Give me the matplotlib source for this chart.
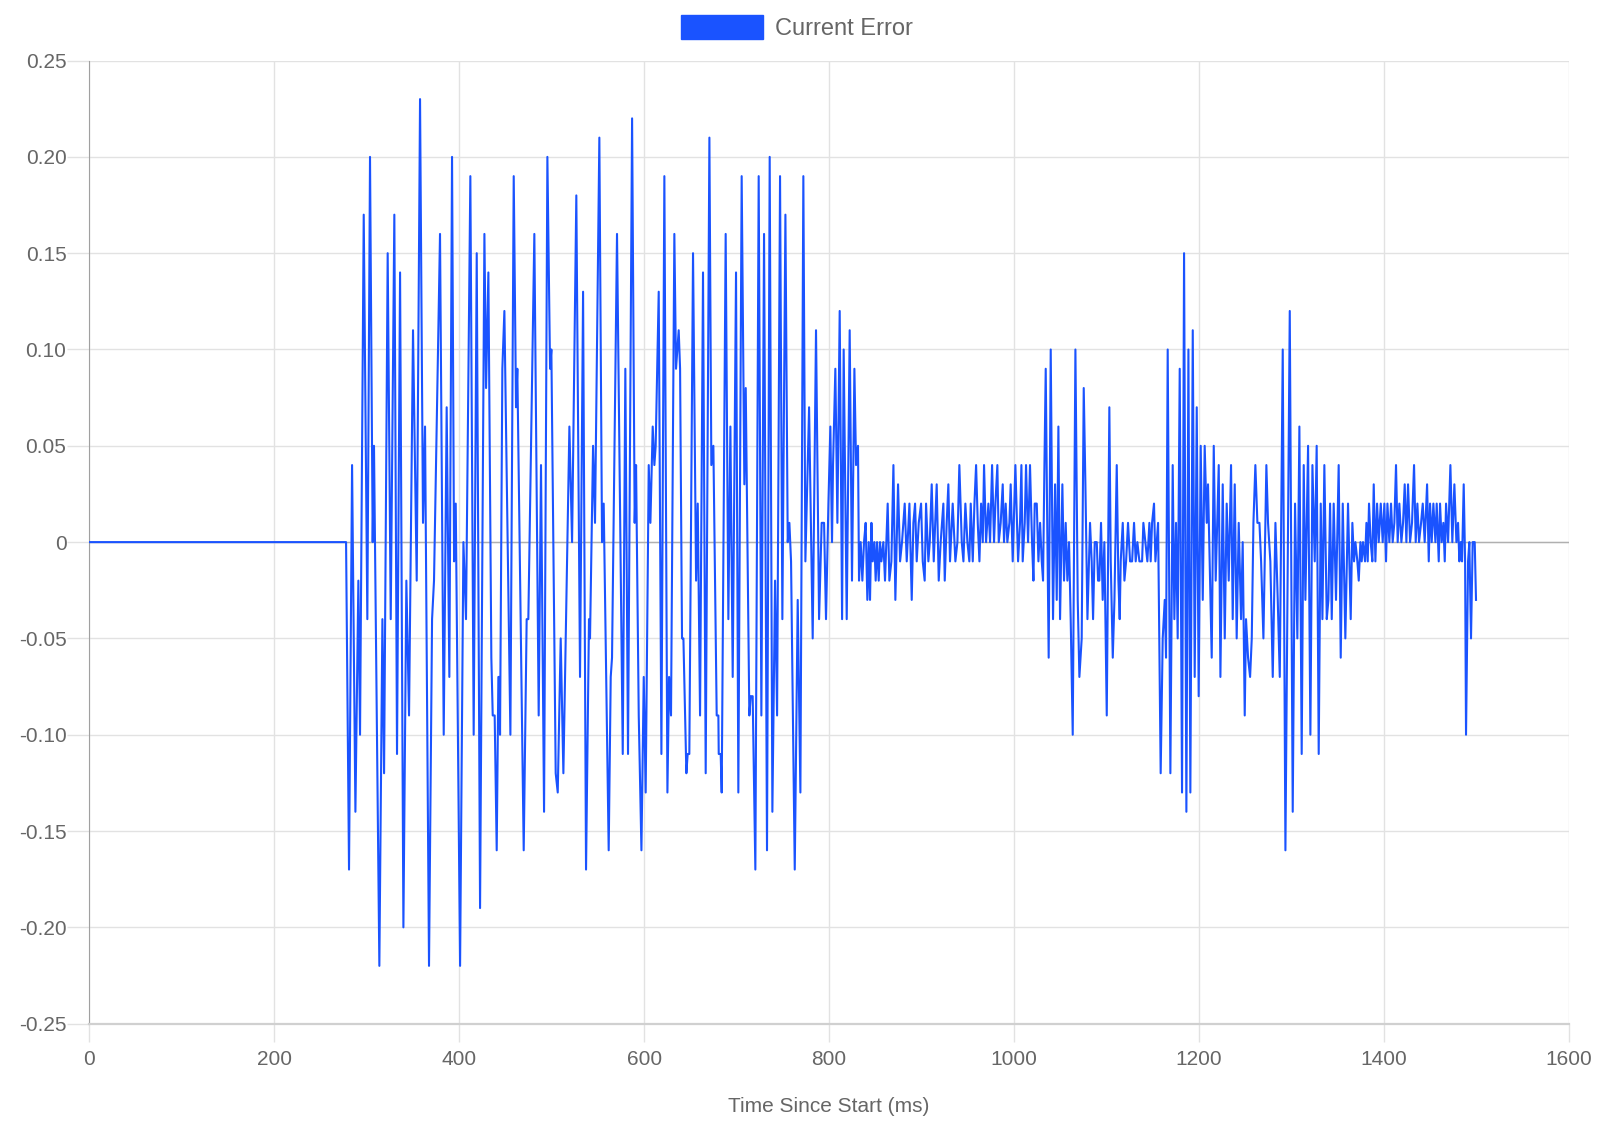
import matplotlib
matplotlib.use("Agg")
import matplotlib.pyplot as plt
from matplotlib.patches import Patch

plt.rcParams['font.family'] = ['Liberation Sans', 'DejaVu Sans']

# readings taken off the chart: time since start (ms) and current error
time_ms = [
    0, 277.6, 280.8, 284.1, 287.7, 290.9, 292.7, 296.7, 300.6, 303.5, 306.4, 307.8,
    313.6, 316.9, 318.7, 322.6, 325.9, 329.8, 332.7, 336.0, 339.6, 342.8, 345.7,
    350.0, 354.0, 357.6, 360.8, 363.0, 367.3, 370.6, 372.7, 379.2, 383.2, 386.4,
    389.3, 392.2, 394.4, 396.2, 400.9, 404.5, 407.3, 412.0, 415.6, 418.9, 422.5,
    427.2, 429.0, 431.5, 434.7, 436.2, 438.3, 440.5, 442.3, 443.4, 444.1, 446.6,
    448.8, 455.3, 458.9, 461.4, 462.8, 469.7, 472.9, 474.7, 481.2, 485.9, 488.4,
    491.7, 495.3, 498.2, 499.6, 504.3, 506.5, 509.7, 512.6, 519.1, 522.0, 526.6,
    530.6, 533.9, 537.1, 540.3, 541.4, 544.7, 546.8, 551.5, 554.4, 556.2, 561.6,
    563.8, 565.2, 570.6, 576.8, 579.6, 582.5, 586.9, 589.7, 591.2, 594.1, 597.0,
    599.5, 601.6, 604.9, 606.7, 609.2, 611.0, 612.4, 615.7, 618.6, 621.8, 625.1,
    626.9, 629.0, 632.6, 634.4, 637.3, 638.8, 640.9, 642.4, 645.6, 647.0, 648.8,
    652.8, 656.1, 657.9, 660.4, 663.6, 666.5, 670.5, 672.6, 674.8, 678.4, 680.2,
    680.6, 682.7, 683.8, 688.1, 691.0, 693.2, 695.7, 699.3, 701.8, 705.4, 708.3,
    709.8, 713.7, 715.2, 717.3, 720.2, 723.8, 726.7, 729.6, 732.8, 735.7, 738.6,
    741.5, 743.7, 746.9, 749.4, 752.7, 755.2, 757.0, 758.8, 762.8, 766.0, 768.9,
    772.1, 774.3, 778.3, 782.2, 785.8, 789.1, 791.9, 794.5, 796.6, 799.2, 801.3,
    803.1, 804.2, 806.7, 808.9, 811.4, 814.0, 815.7, 819.0, 822.2, 824.7, 827.3,
    829.1, 831.2, 832.3, 834.1, 835.9, 837.7, 839.5, 841.3, 842.8, 844.2, 845.7,
    847.1, 848.9, 850.3, 851.8, 853.6, 855.0, 856.5, 858.6, 860.4, 863.3, 865.1,
    867.3, 869.5, 871.6, 874.5, 876.7, 878.8, 881.7, 883.9, 886.8, 889.3, 891.1,
    892.9, 894.7, 896.9, 899.4, 901.2, 903.3, 904.8, 907.3, 908.8, 910.9, 913.1,
    916.3, 918.5, 920.6, 923.5, 925.0, 927.1, 928.9, 930.7, 933.6, 936.5, 938.7,
    940.8, 943.4, 945.2, 947.3, 949.5, 951.6, 953.1, 955.3, 957.1, 958.9, 960.7,
    962.5, 964.3, 966.1, 967.5, 969.7, 972.2, 974.0, 976.2, 978.3, 979.8, 981.9,
    983.4, 985.5, 987.7, 989.1, 990.9, 992.7, 994.9, 996.3, 998.5, 1001.4, 1004.3,
    1006.4, 1007.9, 1009.3, 1011.5, 1012.9, 1015.1, 1017.2, 1019.4, 1020.9, 1022.3,
    1024.5, 1026.3, 1028.1, 1029.9, 1031.3, 1032.8, 1034.2, 1035.6, 1037.4, 1039.6,
    1042.1, 1044.3, 1046.1, 1047.9, 1049.7, 1052.2, 1054.0, 1055.8, 1057.6, 1059.4,
    1061.2, 1063.4, 1066.3, 1068.8, 1070.6, 1073.1, 1075.3, 1077.1, 1079.3, 1082.1,
    1083.9, 1085.4, 1087.2, 1089.4, 1090.8, 1092.2, 1094.0, 1095.8, 1097.6, 1100.2,
    1103.0, 1104.5, 1106.7, 1108.5, 1111.0, 1112.8, 1114.2, 1115.3, 1117.5, 1119.3,
    1121.1, 1123.2, 1125.4, 1127.6, 1129.7, 1131.5, 1133.3, 1135.5, 1138.4, 1139.8,
    1142.0, 1144.1, 1146.3, 1147.7, 1149.2, 1151.3, 1152.8, 1154.2, 1155.7, 1158.5,
    1160.7, 1162.9, 1164.3, 1166.1, 1169.0, 1171.5, 1173.3, 1175.1, 1176.9, 1179.1,
    1181.6, 1183.8, 1186.3, 1188.5, 1190.6, 1193.2, 1195.3, 1197.5, 1199.6, 1201.8,
    1204.0, 1206.1, 1208.3, 1209.7, 1211.9, 1213.7, 1215.9, 1218.0, 1221.3, 1223.1,
    1225.6, 1227.8, 1229.9, 1232.1, 1234.6, 1236.4, 1238.6, 1240.7, 1242.9, 1245.4,
    1247.2, 1249.4, 1250.8, 1253.0, 1255.2, 1257.0, 1258.8, 1260.9, 1263.1, 1265.3,
    1267.1, 1269.6, 1272.8, 1274.6, 1277.1, 1279.7, 1282.6, 1285.1, 1287.3, 1290.5,
    1293.4, 1298.1, 1301.3, 1303.8, 1306.3, 1308.5, 1311.0, 1313.2, 1315.0, 1317.9,
    1320.4, 1322.6, 1325.1, 1327.2, 1329.4, 1331.6, 1333.4, 1335.5, 1338.1, 1339.9,
    1341.7, 1343.5, 1345.6, 1348.1, 1351.0, 1353.2, 1355.4, 1358.2, 1361.1, 1364.0,
    1365.8, 1367.6, 1369.1, 1371.2, 1372.7, 1374.5, 1375.9, 1377.3, 1379.5, 1381.0,
    1382.4, 1383.8, 1385.6, 1387.4, 1388.9, 1390.7, 1392.5, 1394.3, 1396.5, 1398.6,
    1400.4, 1402.2, 1403.7, 1405.8, 1407.6, 1409.4, 1411.2, 1413.0, 1414.8, 1416.6,
    1418.8, 1420.6, 1422.4, 1424.2, 1426.0, 1428.2, 1430.3, 1432.5, 1434.3, 1436.1,
    1437.9, 1440.1, 1441.9, 1444.0, 1446.6, 1448.4, 1449.8, 1451.6, 1453.4, 1455.6,
    1457.0, 1459.2, 1460.6, 1462.4, 1464.2, 1465.7, 1467.1, 1469.3, 1471.8, 1473.9,
    1476.1, 1478.3, 1480.1, 1481.5, 1483.0, 1484.4, 1486.2, 1487.7, 1488.7, 1490.9,
    1492.3, 1494.1, 1495.9, 1498.1, 1499.5,
]

error = [
    0, 0, -0.17, 0.04, -0.14, -0.02, -0.10, 0.17, -0.04, 0.20, 0, 0.05,
    -0.22, -0.04, -0.12, 0.15, -0.04, 0.17, -0.11, 0.14, -0.20, -0.02, -0.09,
    0.11, -0.02, 0.23, 0.01, 0.06, -0.22, -0.04, -0.02, 0.16, -0.10, 0.07,
    -0.07, 0.20, -0.01, 0.02, -0.22, 0, -0.04, 0.19, -0.10, 0.15, -0.19,
    0.16, 0.08, 0.14, -0.06, -0.09, -0.09, -0.16, -0.07, -0.07, -0.10, 0.09,
    0.12, -0.10, 0.19, 0.07, 0.09, -0.16, -0.04, -0.04, 0.16, -0.09, 0.04,
    -0.14, 0.20, 0.09, 0.10, -0.12, -0.13, -0.05, -0.12, 0.06, 0, 0.18,
    -0.07, 0.13, -0.17, -0.04, -0.05, 0.05, 0.01, 0.21, 0, 0.02, -0.16,
    -0.07, -0.06, 0.16, -0.11, 0.09, -0.11, 0.22, 0.01, 0.04, -0.09, -0.16,
    -0.07, -0.13, 0.04, 0.01, 0.06, 0.04, 0.05, 0.13, -0.11, 0.19, -0.13,
    -0.07, -0.09, 0.16, 0.09, 0.11, 0.09, -0.05, -0.05, -0.12, -0.11, -0.11,
    0.15, -0.02, 0.02, -0.09, 0.14, -0.12, 0.21, 0.04, 0.05, -0.09, -0.09,
    -0.11, -0.11, -0.13, 0.16, -0.04, 0.06, -0.07, 0.14, -0.13, 0.19, 0.03,
    0.08, -0.09, -0.08, -0.08, -0.17, 0.19, -0.09, 0.16, -0.16, 0.20, -0.14,
    -0.02, -0.09, 0.19, -0.04, 0.17, 0, 0.01, -0.01, -0.17, -0.03, -0.13,
    0.19, -0.01, 0.07, -0.05, 0.11, -0.04, 0.01, 0.01, -0.04, 0.02, 0.06,
    0, 0.04, 0.09, 0.01, 0.12, -0.04, 0.10, -0.04, 0.11, -0.02, 0.09,
    0.04, 0.05, -0.02, 0, -0.02, 0, 0.01, -0.03, 0, -0.03, 0.01,
    -0.01, 0, -0.02, 0, -0.02, 0, -0.01, 0, -0.02, 0.02, -0.02,
    -0.01, 0.04, -0.03, 0.03, -0.01, 0, 0.02, -0.01, 0.02, -0.03, 0.01,
    0.02, -0.01, 0.01, 0.02, -0.01, -0.02, 0.02, -0.01, 0, 0.03, -0.01,
    0.03, -0.02, 0, 0.02, -0.02, 0.01, 0.03, -0.01, 0.02, -0.01, 0,
    0.04, 0, -0.01, 0.02, 0, -0.01, 0.02, -0.01, 0.02, 0.04, 0.01,
    -0.01, 0.02, 0, 0.04, 0, 0.02, 0, 0.04, 0, 0.02, 0.04,
    0, 0.01, 0.03, 0, 0.02, 0, 0.01, 0.03, -0.01, 0.04, -0.01,
    0.01, 0.04, -0.01, 0.01, 0.04, 0, 0.04, 0, -0.02, 0.02,
    0.02, -0.01, 0.01, -0.01, -0.02, 0.04, 0.09, 0.02, -0.06, 0.10,
    -0.04, 0.03, -0.03, 0.06, -0.04, 0.03, -0.02, 0.01, -0.02, 0,
    -0.04, -0.10, 0.10, -0.03, -0.07, -0.05, 0.08, 0.03, -0.04, 0.01,
    -0.01, -0.04, 0, 0, -0.02, -0.02, 0.01, -0.03, 0, -0.09,
    0.07, -0.01, -0.06, -0.03, 0.04, -0.02, -0.04, -0.01, 0.01, -0.02,
    -0.01, 0.01, -0.01, -0.01, 0.01, -0.01, 0, -0.01, -0.01, 0.01,
    0, -0.01, 0.01, -0.01, 0.01, 0.02, -0.01, 0, 0.01, -0.12,
    -0.05, -0.03, -0.06, 0.10, -0.12, 0.04, -0.04, 0.01, -0.05, 0.09,
    -0.13, 0.15, -0.14, 0.10, -0.13, 0.11, -0.07, 0.07, -0.08, 0.05,
    -0.03, 0.05, 0.01, 0.03, -0.02, -0.06, 0.05, -0.02, 0.04, -0.07,
    0.03, -0.05, 0.02, -0.02, 0.04, -0.04, 0.03, -0.05, 0.01, -0.04,
    0, -0.09, -0.04, -0.06, -0.07, -0.05, 0.01, 0.04, 0.01, 0.01,
    -0.01, -0.05, 0.04, 0.01, -0.01, -0.07, 0.01, -0.03, -0.07, 0.10,
    -0.16, 0.12, -0.14, 0.02, -0.05, 0.06, -0.11, 0.04, -0.03, 0.05,
    -0.10, 0.04, -0.01, 0.05, -0.11, 0.02, -0.04, 0.04, -0.04, -0.03,
    0.02, -0.04, 0.02, -0.03, 0.04, -0.06, 0.02, -0.05, 0.02, -0.04,
    0.01, -0.01, 0, -0.01, -0.02, 0, -0.01, 0, -0.01, 0.01,
    -0.01, 0.02, 0, -0.01, 0.03, -0.01, 0.02, 0, 0.02, 0,
    0.02, -0.01, 0.02, 0, 0.02, 0, 0.01, 0.04, 0, 0.02,
    0, 0.01, 0.03, 0, 0.03, 0, 0.01, 0.04, 0, 0.02,
    0, 0.01, 0.02, 0, 0.03, -0.01, 0.02, 0, 0.02, 0,
    0.02, -0.01, 0.02, 0, 0.01, -0.01, 0.02, 0, 0.04, 0,
    0.03, 0, 0.01, -0.01, 0, -0.01, 0.03, -0.01, -0.10, -0.01,
    0, -0.05, 0, 0, -0.03,
]

y_ticks = [-0.25, -0.20, -0.15, -0.10, -0.05, 0, 0.05, 0.10, 0.15, 0.20, 0.25]
y_labels = ['-0.25', '-0.20', '-0.15', '-0.10', '-0.05', '0', '0.05', '0.10', '0.15', '0.20', '0.25']
x_ticks = [0, 200, 400, 600, 800, 1000, 1200, 1400, 1600]

line_col = '#1a53ff'
text_col = '#666666'
grid_col = '#e2e2e2'

fig = plt.figure(figsize=(16.1, 11.26), dpi=100)
ax = fig.add_axes([0.0555, 0.0909, 0.919, 0.8553])

ax.plot(time_ms, error, color=line_col, lw=1.5, zorder=3)

ax.set_xlim(0, 1600)
ax.set_ylim(-0.25, 0.25)
ax.set_xticks(x_ticks)
ax.set_xticklabels([str(t) for t in x_ticks])
ax.set_yticks(y_ticks)
ax.set_yticklabels(y_labels)

ax.grid(True, color=grid_col, lw=1)
ax.axhline(0, color='#b0b0b0', lw=1, zorder=2)
for s in ['top', 'right']:
    ax.spines[s].set_visible(False)
ax.spines['left'].set_color('#a0a0a0')
ax.spines['bottom'].set_color('#d0d0d0')
ax.spines['bottom'].set_linewidth(1.6)
ax.tick_params(axis='both', colors=grid_col, width=1, labelcolor=text_col, labelsize=15)
ax.tick_params(axis='x', length=13, pad=6)
ax.tick_params(axis='y', length=15.5, pad=1)
ax.set_axisbelow(True)

ax.set_xlabel('Time Since Start (ms)', color=text_col, fontsize=15, labelpad=20)

fig.legend(handles=[Patch(facecolor=line_col, edgecolor=line_col)], labels=['Current Error'],
           loc='upper center', bbox_to_anchor=(0.495, 0.9867), frameon=False, fontsize=17,
           borderpad=0, borderaxespad=0,
           handlelength=3.5, handleheight=1.2, handletextpad=0.5, labelcolor=text_col)

fig.savefig('out.png', dpi=100)
